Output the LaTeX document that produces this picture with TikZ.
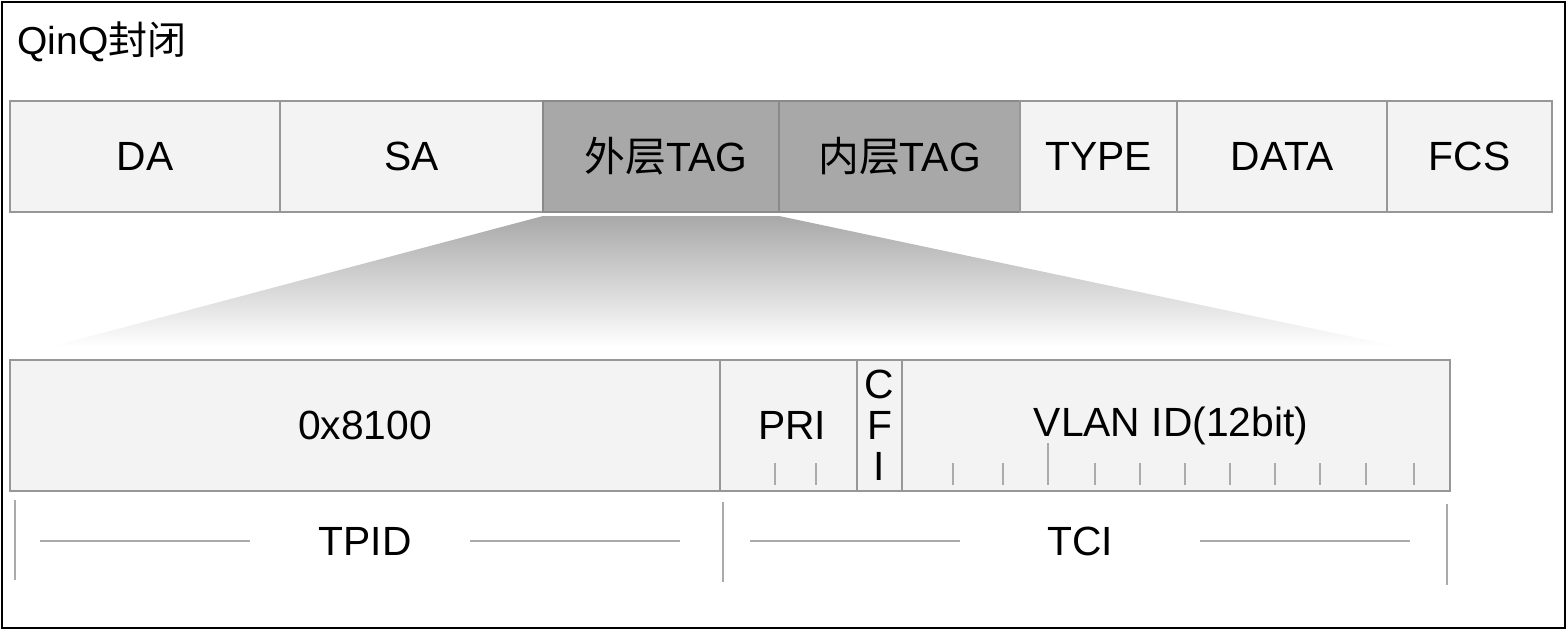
\documentclass[tikz,border=0pt]{standalone}
\usepackage{fontspec}
\setmainfont{Liberation Sans}
\newfontfamily\cjk{Noto Sans CJK SC}
\definecolor{boxfill}{HTML}{F3F3F3}
\definecolor{boxline}{HTML}{979797}
\definecolor{tagfill}{HTML}{A8A8A8}
\definecolor{tagline}{HTML}{8A8A8A}
\definecolor{tickc}{HTML}{ABABAB}
\definecolor{shadetop}{HTML}{A8A8A8}
\begin{document}
\begin{tikzpicture}[x=0.5pt,y=-0.5pt,
  field/.style={draw=boxline,fill=boxfill,line width=1.3pt,inner sep=0pt,
    minimum height=#1*0.5pt,font=\fontsize{20.4}{24}\selectfont,text=black},
  tagbox/.style={field=111,fill=tagfill,draw=tagline},
  tick/.style={draw=tickc,line width=1pt},
  bar/.style={draw=tickc,line width=1pt},
  lbl/.style={font=\fontsize{20.4}{24}\selectfont,inner sep=0pt}]
\useasboundingbox (0,0) rectangle (1568,632);
\fill[white] (0,0) rectangle (1568,632);
\draw[black,line width=1.2pt] (2,2) rectangle (1565,628);
% title
\node[lbl,anchor=west,font=\fontsize{19.5}{24}\selectfont] (title) at (17,42) {QinQ{\cjk 封闭}};
% gradient funnel
\shade[top color=shadetop,bottom color=white,shading angle=0]
  (543,216) -- (779,216) -- (1400,347) -- (50,347) -- cycle;
% top row
\node[field=111,minimum width=135pt] (da) at (145,156.5) {DA};
\node[field=111,minimum width=131.5pt] (sa) at (411.5,156.5) {SA};
\node[tagbox,minimum width=118pt] (outer) at (661,156.5) {\hspace{5pt}{\cjk 外层}TAG};
\node[tagbox,minimum width=120.5pt] (inner) at (899.5,156.5) {{\cjk 内层}TAG};
\node[field=111,minimum width=78.5pt] (type) at (1098.5,156.5) {TYPE};
\node[field=111,minimum width=105pt] (data) at (1282,156.5) {DATA};
\node[field=111,minimum width=82.5pt] (fcs) at (1469.5,156.5) {FCS};
% bottom row
\node[field=131,minimum width=355pt] (tpidf) at (365,425.5) {0x8100};
\node[field=131,minimum width=68.5pt] (pri) at (788.5,425.5) {};
\node[lbl] (prit) at (792,425) {PRI};
\node[field=131,minimum width=22.5pt,align=center,font=\fontsize{20.4}{20.5}\selectfont] (cfi) at (879.5,425.5) {C\\F\\I};
\node[field=131,minimum width=274pt] (vlan) at (1176,425.5) {};
\node[lbl] (vlant) at (1171,426) {VLAN ID(12bit)};
% ticks
\foreach \x in {775,816,953,1003,1095,1140,1185,1230,1275,1320,1366,1414}
  \draw[tick] (\x,463) -- (\x,485);
\draw[tick] (1048,443) -- (1048,485);
% brackets
\draw[bar] (15,500) -- (15,580);
\draw[bar] (723,502) -- (723,582);
\draw[bar] (1447,504) -- (1447,585);
\node[lbl] (tpid) at (365,541) {TPID};
\node[lbl] (tci) at (1080,541) {TCI};
\draw[bar] (40,541) -- (250,541);
\draw[bar] (470,541) -- (680,541);
\draw[bar] (750,541) -- (960,541);
\draw[bar] (1200,541) -- (1410,541);
\end{tikzpicture}
\end{document}
